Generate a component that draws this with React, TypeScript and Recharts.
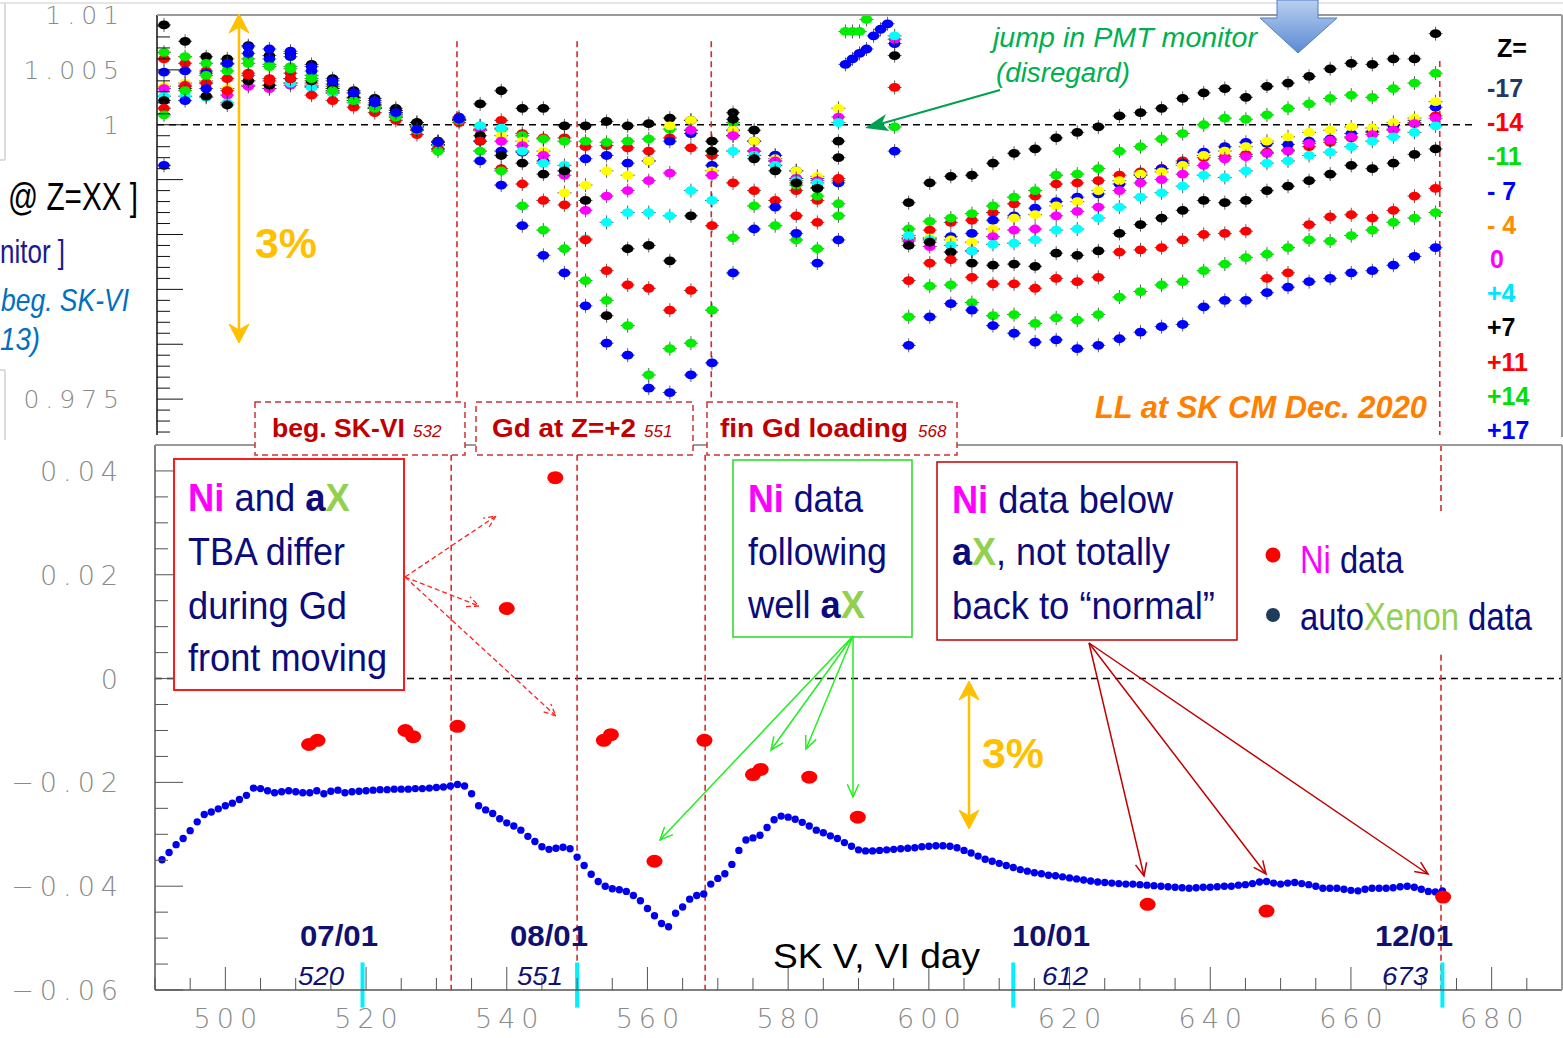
import React from "react";
import { ScatterChart, Scatter, XAxis, YAxis, ReferenceLine } from "recharts";

const W = 1563;
const H = 1038;
const SANS = "'Liberation Sans', Arial, sans-serif";
const THIN = "'DejaVu Sans', sans-serif";
const NAVY = "#0b0b7d";
const MAGENTA = "#ff00ff";
const LIME = "#92d050";
const DARKRED = "#c00000";
const ORANGE = "#ffc000";

// ---- top panel: relative gain per Z slice, sampled SK days ----
const topDays = [
  491, 494, 497, 500, 503, 506, 509, 512, 515, 518, 521, 524, 527, 530, 533,
  536, 539, 542, 545, 548, 551, 554, 557, 560, 563, 566, 569, 572, 575, 578, 581, 584, 587,
  597, 600, 603, 606, 609, 612, 615, 618, 621, 624, 627, 630, 633, 636, 639, 642, 645, 648,
  651, 654, 657, 660, 663, 666, 669, 672,
];

const zMinus17 = [
  1.0091, 1.0076, 1.0062, 1.006, 1.0072, 1.0063, 1.0065, 1.0055, 1.0042, 1.0031, 1.0024, 1.0015, 1.0002, 0.9985, 1.0005,
  1.0019, 1.0031, 1.0015, 1.0015, 0.9999, 0.9999, 1.0003, 0.9999, 1.0001, 1.0006, 1.0004, 0.9985, 1.0011, 0.9995, 0.9972, 0.9951, 0.9943, 0.9985,
  0.9929, 0.9947, 0.9953, 0.9954, 0.9965, 0.9974, 0.9978, 0.9988, 0.9993, 0.9998, 1.0008, 1.0011, 1.0015, 1.0024, 1.0029, 1.0033, 1.0025, 1.0035,
  1.0038, 1.0044, 1.0051, 1.0056, 1.0055, 1.006, 1.006, 1.0083,
];
const zMinus14 = [
  1.006, 1.0056, 1.0049, 1.0042, 1.0047, 1.0042, 1.0047, 1.0038, 1.0029, 1.0022, 1.0015, 1.0007, 0.9995, 0.9978, 1.0004,
  0.9995, 1.0004, 0.9992, 0.9988, 0.9988, 0.998, 0.9981, 0.9979, 0.9976, 0.9988, 0.9979, 0.9972, 0.999, 0.9976, 0.9963, 0.994, 0.9931, 0.9949,
  0.9896, 0.9904, 0.9911, 0.9913, 0.992, 0.9928, 0.9935, 0.9946, 0.9947, 0.9949, 0.9954, 0.9957, 0.996, 0.9967, 0.997, 0.9971, 0.9973, 0.9975,
  0.9977, 0.998, 0.9984, 0.9988, 0.9993, 0.9996, 1.0002, 1.0008,
];
const zMinus11 = [
  1.0066, 1.0062, 1.0056, 1.0055, 1.006, 1.0055, 1.0053, 1.0045, 1.0035, 1.0025, 1.0018, 1.0011, 0.9998, 0.9981, 1.0005,
  0.9999, 0.9996, 0.999, 0.9987, 0.9985, 0.9985, 0.9984, 0.9985, 0.9987, 0.9996, 0.9995, 0.9976, 1.0002, 0.9985, 0.9967, 0.9945, 0.9935, 0.9928,
  0.9905, 0.9912, 0.9915, 0.9919, 0.9926, 0.9934, 0.994, 0.9954, 0.9955, 0.996, 0.9976, 0.998, 0.9987, 0.9992, 1.0, 1.0006, 1.0005, 1.0009,
  1.0015, 1.0019, 1.0024, 1.0027, 1.0025, 1.0033, 1.0038, 1.0047,
];
const zMinus7 = [
  1.0048, 1.0049, 1.0047, 1.0056, 1.0065, 1.006, 1.0062, 1.0049, 1.0037, 1.0029, 1.0022, 1.0013, 1.0, 0.9984, 1.0007,
  0.9985, 0.9976, 0.9975, 0.9967, 0.9958, 0.9969, 0.9972, 0.9965, 0.9967, 0.9985, 0.9992, 0.9963, 0.9995, 0.9985, 0.9972, 0.9958, 0.9951, 0.9947,
  0.9897, 0.9896, 0.9898, 0.9901, 0.9913, 0.9917, 0.9924, 0.993, 0.9934, 0.9937, 0.9946, 0.9954, 0.996, 0.9965, 0.9975, 0.998, 0.9984, 0.9983,
  0.9982, 0.9985, 0.9987, 0.9992, 0.9994, 0.9999, 1.0004, 1.0016,
];
const zMinus4 = [
  1.0035, 1.0038, 1.004, 1.0033, 1.0036, 1.0033, 1.0038, 1.0036, 1.0033, 1.0024, 1.0016, 1.0011, 1.0, 0.9984, 1.0004,
  0.9995, 0.999, 0.9985, 0.9976, 0.9938, 0.9945, 0.9958, 0.9954, 0.9967, 0.9999, 1.0004, 0.9958, 0.9995, 0.9985, 0.9969, 0.9958, 0.9953, 1.0015,
  0.9896, 0.9897, 0.9895, 0.9893, 0.9905, 0.9915, 0.9918, 0.9926, 0.993, 0.994, 0.9949, 0.9955, 0.9957, 0.9963, 0.9972, 0.9976, 0.998, 0.9985,
  0.9989, 0.9993, 0.9995, 0.9998, 0.9997, 1.0002, 1.0006, 1.0021,
];
const zZero = [
  1.0033, 1.0036, 1.0038, 1.0027, 1.0035, 1.0033, 1.0036, 1.0035, 1.0031, 1.0022, 1.0015, 1.0009, 0.9998, 0.9982, 1.0005,
  0.9996, 0.9985, 0.9981, 0.9972, 0.9954, 0.9922, 0.9935, 0.994, 0.9949, 0.9956, 0.9995, 0.9954, 0.999, 0.9976, 0.9967, 0.9951, 0.9949, 1.0007,
  0.9894, 0.9889, 0.9884, 0.9885, 0.9898, 0.9904, 0.9905, 0.9917, 0.9921, 0.9925, 0.994, 0.9947, 0.995, 0.9955, 0.9963, 0.9969, 0.9971, 0.9974,
  0.9976, 0.9983, 0.9986, 0.9989, 0.9991, 0.9995, 1.0001, 1.0006,
];
const zPlus4 = [
  1.0026, 1.0026, 1.0025, 1.002, 1.004, 1.0036, 1.0038, 1.0034, 1.0029, 1.002, 1.0015, 1.0009, 0.9998, 0.9982, 1.0004,
  0.9999, 0.9997, 0.9976, 0.9965, 0.9963, 0.9896, 0.9911, 0.992, 0.992, 0.9917, 0.994, 0.9931, 0.9976, 0.9972, 0.9963, 0.9949, 0.9947, 1.0002,
  0.9899, 0.9895, 0.989, 0.9885, 0.9891, 0.9892, 0.9895, 0.9904, 0.9905, 0.9915, 0.9925, 0.9934, 0.9938, 0.9944, 0.9954, 0.9952, 0.9958, 0.9965,
  0.9967, 0.9972, 0.9975, 0.998, 0.9985, 0.9989, 0.9993, 0.9999,
];
const zPlus7 = [
  1.0022, 1.0033, 1.0026, 1.0018, 1.004, 1.0036, 1.0042, 1.004, 1.0033, 1.0025, 1.0018, 1.0013, 1.0002, 0.9984, 1.0005,
  0.999, 0.9972, 0.9965, 0.9955, 0.9958, 0.9931, 0.9826, 0.9887, 0.989, 0.9876, 0.9917, 0.9976, 1.0005, 0.9969, 0.9958, 0.9947, 0.9942, 0.997,
  0.989, 0.9893, 0.9884, 0.9874, 0.9872, 0.9873, 0.9871, 0.9883, 0.9881, 0.9885, 0.9901, 0.9909, 0.9915, 0.9922, 0.9931, 0.9929, 0.9931, 0.994,
  0.9944, 0.9949, 0.9955, 0.9963, 0.996, 0.9965, 0.9973, 0.9978,
];
const zPlus11 = [
  1.0015, 1.0035, 1.0038, 1.0031, 1.0045, 1.004, 1.0042, 1.0027, 1.0022, 1.0016, 1.0011, 1.0004, 0.9991, 0.9978, 1.0002,
  0.9985, 0.996, 0.9946, 0.9931, 0.9927, 0.9895, 0.9867, 0.9854, 0.9851, 0.9831, 0.9849, 0.9908, 0.9947, 0.994, 0.9931, 0.9917, 0.9911, 0.9951,
  0.9858, 0.9874, 0.9877, 0.9861, 0.9855, 0.9855, 0.9851, 0.986, 0.9857, 0.9861, 0.9884, 0.9886, 0.9888, 0.9895, 0.99, 0.9901, 0.9903, 0.986,
  0.9865, 0.9909, 0.9916, 0.9918, 0.9915, 0.9922, 0.9935, 0.9942,
];
const zPlus14 = [
  1.0009, 1.0031, 1.0045, 1.0049, 1.0056, 1.0053, 1.0051, 1.0042, 1.0031, 1.0022, 1.0015, 1.0007, 0.9995, 0.9976, 1.0004,
  0.9976, 0.9958, 0.9926, 0.9904, 0.9887, 0.9858, 0.984, 0.9817, 0.9772, 0.9796, 0.9801, 0.9831, 0.9897, 0.9926, 0.9908, 0.9895, 0.9887, 0.9917,
  0.9825, 0.9853, 0.9854, 0.9838, 0.9826, 0.9827, 0.9819, 0.9824, 0.9822, 0.9827, 0.9843, 0.9848, 0.9854, 0.9857, 0.9867, 0.9873, 0.9879, 0.9882,
  0.9888, 0.9895, 0.9894, 0.9899, 0.9904, 0.9911, 0.9915, 0.992,
];
const zPlus17 = [
  0.9963, 1.0022, 1.0033, 1.0056, 1.0071, 1.0069, 1.0067, 1.0053, 1.004, 1.0029, 1.002, 1.0011, 0.9996, 0.9984, 1.0005,
  0.9967, 0.9945, 0.9908, 0.9881, 0.9865, 0.9835, 0.9801, 0.979, 0.976, 0.9756, 0.9772, 0.9783, 0.9865, 0.9905, 0.9925, 0.9901, 0.9874, 0.9895,
  0.9799, 0.9825, 0.9837, 0.9831, 0.9817, 0.981, 0.9802, 0.9804, 0.9796, 0.9799, 0.9805, 0.9811, 0.9816, 0.9818, 0.9834, 0.984, 0.984, 0.9847,
  0.9852, 0.9857, 0.986, 0.9865, 0.9867, 0.9872, 0.988, 0.9888,
];

// PMT monitor jump (disregard)
const jumpDays = [588, 589, 590, 591, 592, 593, 594, 595];
const jumpMinus17 = [null, null, null, null, null, null, null, 1.0063];
const jumpMinus14 = [null, null, null, null, null, null, null, 1.0034];
const jumpMinus11 = [1.0085, 1.0085, 1.0085, 1.0096, null, null, null, 0.9998];
const jumpMinus7 = [null, null, null, null, null, null, null, 1.0074];
const jumpZero = [null, null, null, null, null, null, null, 1.0078];
const jumpPlus4 = [null, null, null, null, null, null, null, 1.0081];
const jumpPlus17 = [1.0055, 1.006, 1.0065, 1.0069, 1.0081, 1.0087, 1.0092, 0.9976];

const topSeries = [
  { z: "-17", dot: "#000000", text: "#1f3864", values: zMinus17, jump: jumpMinus17 },
  { z: "-14", dot: "#ff0000", text: "#ff0000", values: zMinus14, jump: jumpMinus14 },
  { z: "-11", dot: "#00ee00", text: "#00e000", values: zMinus11, jump: jumpMinus11 },
  { z: "- 7", dot: "#0000ff", text: "#0000ff", values: zMinus7, jump: jumpMinus7 },
  { z: "- 4", dot: "#ffff00", text: "#ff8c00", values: zMinus4, jump: [] },
  { z: "0", dot: "#ff00ff", text: "#ff00ff", values: zZero, jump: jumpZero },
  { z: "+4", dot: "#00ffff", text: "#00e5ff", values: zPlus4, jump: jumpPlus4 },
  { z: "+7", dot: "#000000", text: "#000000", values: zPlus7, jump: [] },
  { z: "+11", dot: "#ff0000", text: "#ff0000", values: zPlus11, jump: [] },
  { z: "+14", dot: "#00ee00", text: "#00e000", values: zPlus14, jump: [] },
  { z: "+17", dot: "#0000ff", text: "#0000ff", values: zPlus17, jump: jumpPlus17 },
];

const topEventDays = [532.7, 549.8, 568.9];
const topLastDay = 672.6;

// ---- bottom panel: Ni vs autoXenon ----
const AX_FIRST_DAY = 491;
const axValues = [
  -0.0349, -0.0335, -0.032, -0.0308, -0.0293, -0.0276, -0.0262, -0.0257, -0.0251, -0.0245,
  -0.024, -0.0233, -0.0225, -0.0211, -0.0212, -0.0216, -0.022, -0.0218, -0.0216, -0.0218,
  -0.022, -0.022, -0.0216, -0.0222, -0.0217, -0.0215, -0.022, -0.0218, -0.0217, -0.0216,
  -0.0215, -0.0214, -0.0214, -0.0213, -0.0213, -0.0213, -0.0212, -0.0212, -0.0211, -0.021,
  -0.0209, -0.0207, -0.0204, -0.0207, -0.0222, -0.0245, -0.0253, -0.026, -0.027, -0.0278,
  -0.0284, -0.0292, -0.0304, -0.0314, -0.0324, -0.0329, -0.0327, -0.0325, -0.0328, -0.0344,
  -0.036, -0.0377, -0.0391, -0.04, -0.0405, -0.0407, -0.041, -0.0418, -0.0428, -0.0443,
  -0.0457, -0.0472, -0.0478, -0.0452, -0.044, -0.0425, -0.0418, -0.0415, -0.0396, -0.0385,
  -0.0376, -0.0358, -0.0331, -0.0311, -0.0307, -0.0302, -0.0287, -0.0272, -0.0265, -0.0267,
  -0.0271, -0.0277, -0.0284, -0.0292, -0.0297, -0.0303, -0.0308, -0.0316, -0.0323, -0.033,
  -0.0332, -0.0332, -0.0331, -0.033, -0.0329, -0.0328, -0.0327, -0.0326, -0.0324, -0.0323,
  -0.0322, -0.0322, -0.0323, -0.0326, -0.0331, -0.0336, -0.0342, -0.0348, -0.0352, -0.0356,
  -0.036, -0.0364, -0.0368, -0.0371, -0.0374, -0.0376, -0.0379, -0.038, -0.0382, -0.0384,
  -0.0386, -0.0388, -0.039, -0.0392, -0.0393, -0.0394, -0.0395, -0.0396, -0.0396, -0.0397,
  -0.0398, -0.0399, -0.04, -0.0401, -0.0402, -0.0403, -0.0404, -0.0403, -0.0402, -0.0402,
  -0.0401, -0.04, -0.04, -0.0398, -0.0397, -0.0395, -0.0392, -0.0391, -0.0394, -0.0396,
  -0.0394, -0.0393, -0.0395, -0.0397, -0.04, -0.0404, -0.0404, -0.0404, -0.0406, -0.0408,
  -0.0409, -0.0406, -0.0404, -0.0404, -0.0404, -0.0403, -0.0401, -0.04, -0.0402, -0.0406,
  -0.041, -0.0411, -0.0409,
];
const niDays = [511.9, 513.1, 525.6, 526.7, 533.0, 540.0, 546.9, 553.8, 554.8, 561.0, 568.1, 575.0, 576.1, 583.0, 589.9, 631.1, 648.0, 673.1];
const niValues = [-0.0127, -0.0119, -0.01, -0.0112, -0.0092, 0.0135, 0.0387, -0.0119, -0.0108, -0.0352, -0.0119, -0.0185, -0.0175, -0.019, -0.0267, -0.0435, -0.0448, -0.0421];

const bottomEventDays = [532.1, 550.0, 568.2];
const bottomLastDay = 672.8;
const dateMarks = [
  { day: 519.5, date: "07/01", num: "520", dx: 300, nx: 298 },
  { day: 550.0, date: "08/01", num: "551", dx: 510, nx: 517 },
  { day: 612.0, date: "10/01", num: "612", dx: 1012, nx: 1042 },
  { day: 673.0, date: "12/01", num: "673", dx: 1375, nx: 1382 },
];

// axis ticks
const topTicks: number[] = [];
for (let k = 972; k <= 1010; k++) topTicks.push(k / 1000);
const TOP_LABELS = [1010, 1005, 1000, 975];
const bottomYTicks: number[] = [];
for (let k = -60; k <= 45; k += 5) bottomYTicks.push(k / 1000);
const bottomXTicks: number[] = [];
for (let d = 490; d <= 690; d += 5) bottomXTicks.push(d);

const topData = topSeries.map((s) => {
  const pts = topDays.map((d, i) => ({ x: d, y: s.values[i] }));
  s.jump.forEach((v, i) => {
    if (v != null) pts.push({ x: jumpDays[i], y: v });
  });
  return pts;
});
const axData = axValues.map((v, i) => ({ x: AX_FIRST_DAY + i, y: v }));
const niData = niDays.map((d, i) => ({ x: d, y: niValues[i] }));

const gainDot = (color: string) => (p: any) => {
  const { cx, cy } = p;
  if (cx == null || cy == null) return <g />;
  return (
    <g>
      <line x1={cx} x2={cx} y1={cy - 7} y2={cy + 7} stroke="#333" strokeWidth={0.8} />
      <line x1={cx - 7} x2={cx + 7} y1={cy} y2={cy} stroke="#333" strokeWidth={0.8} />
      <ellipse cx={cx} cy={cy} rx={5.8} ry={4.4} fill={color} />
    </g>
  );
};
const axDot = (p: any) => <circle cx={p.cx} cy={p.cy} r={3.7} fill="#0000ee" />;
const niDot = (p: any) => <ellipse cx={p.cx} cy={p.cy} rx={8} ry={6.5} fill="#ff0000" />;

const TopYTick = (props: any) => {
  const { x, y, payload } = props;
  const k = Math.round(payload.value * 1000);
  const major = k % 5 === 0;
  return (
    <g>
      <line x1={x} x2={x + (major ? 26 : 13)} y1={y} y2={y} stroke="#111" strokeWidth={1} />
      {TOP_LABELS.includes(k) && (
        <text x={x - 32} y={y + 9} textAnchor="end" fontFamily={THIN} fontWeight={300} fontSize={25} letterSpacing={6} fill="#8a8a8a">
          {String(k / 1000)}
        </text>
      )}
    </g>
  );
};

const BottomYTick = (props: any) => {
  const { x, y, payload } = props;
  const k = Math.round(payload.value * 1000);
  const major = k % 20 === 0;
  const label = k === 0 ? "0" : (k < 0 ? "\u2212" : "") + (Math.abs(k) / 1000).toFixed(2);
  return (
    <g>
      <line x1={x} x2={x + (major ? 28 : 13)} y1={y} y2={y} stroke="#555" strokeWidth={1} />
      {major && (
        <text x={x - 31} y={y + 10} textAnchor="end" fontFamily={THIN} fontWeight={300} fontSize={27} letterSpacing={6} fill="#8a8a8a">
          {label}
        </text>
      )}
    </g>
  );
};

const BottomXTick = (props: any) => {
  const { x, y, payload } = props;
  const d = payload.value;
  const major = d % 20 === 0;
  return (
    <g>
      <line x1={x} x2={x} y1={y} y2={y - (major ? 23 : 12)} stroke="#555" strokeWidth={1} />
      {major && d >= 500 && d <= 680 && (
        <text x={x + 3} y={y + 38} textAnchor="middle" fontFamily={THIN} fontWeight={300} fontSize={27} letterSpacing={6} fill="#8a8a8a">
          {d}
        </text>
      )}
    </g>
  );
};

function Arrow({ x1, y1, x2, y2, color, width = 1.5, dash, head = 14 }: any) {
  const a = Math.atan2(y2 - y1, x2 - x1);
  const s = 0.42;
  const p1 = `${x2 - head * Math.cos(a - s)},${y2 - head * Math.sin(a - s)}`;
  const p2 = `${x2 - head * Math.cos(a + s)},${y2 - head * Math.sin(a + s)}`;
  return (
    <g stroke={color} strokeWidth={width} fill="none" strokeDasharray={dash}>
      <line x1={x1} y1={y1} x2={x2} y2={y2} />
      <polyline points={`${p1} ${x2},${y2} ${p2}`} />
    </g>
  );
}

function DoubleArrow({ x, y1, y2 }: any) {
  return (
    <g fill={ORANGE} stroke={ORANGE}>
      <line x1={x} x2={x} y1={y1 + 8} y2={y2 - 8} strokeWidth={2.5} />
      <polygon points={`${x},${y1} ${x + 10},${y1 + 19} ${x},${y1 + 13} ${x - 10},${y1 + 19}`} strokeWidth={1} />
      <polygon points={`${x},${y2} ${x + 10},${y2 - 19} ${x},${y2 - 13} ${x - 10},${y2 - 19}`} strokeWidth={1} />
    </g>
  );
}

// a multi-coloured text line squeezed horizontally like the narrow slide font
function Line({ x, y, sx, children, size = 38 }: any) {
  return (
    <text transform={`translate(${x},${y}) scale(${sx},1)`} fontFamily={SANS} fontSize={size} fill={NAVY}>
      {children}
    </text>
  );
}

function Overlay() {
  const boxText = { fontFamily: SANS, fontSize: 38, fill: NAVY, lengthAdjust: "spacingAndGlyphs" } as any;
  const tag = { fontFamily: SANS, fontSize: 26, fontWeight: 700, fill: DARKRED, lengthAdjust: "spacingAndGlyphs" } as any;
  const tagNum = { fontFamily: SANS, fontSize: 17, fontStyle: "italic", fill: DARKRED } as any;
  return (
    <svg width={W} height={H} style={{ position: "absolute", left: 0, top: 0, pointerEvents: "none" }}>
      <defs>
        <linearGradient id="blueArrow" x1="0" y1="0" x2="0" y2="1">
          <stop offset="0" stopColor="#b8cff0" />
          <stop offset="1" stopColor="#5b8ad2" />
        </linearGradient>
      </defs>
      {/* faint slide frames */}
      <line x1={0} x2={W} y1={3} y2={3} stroke="#dcdcdc" strokeWidth={1.5} />
      <line x1={5} x2={5} y1={3} y2={160} stroke="#d0d0d0" strokeWidth={1.5} />
      <line x1={0} x2={5} y1={160} y2={160} stroke="#d0d0d0" strokeWidth={1.5} />
      <line x1={5} x2={5} y1={370} y2={440} stroke="#d0d0d0" strokeWidth={1.5} />
      <line x1={0} x2={5} y1={370} y2={370} stroke="#d0d0d0" strokeWidth={1.5} />
      {/* panel frames */}
      <line x1={157} x2={1562} y1={15} y2={15} stroke="#9a9a9a" strokeWidth={2} />
      <line x1={1562} x2={1562} y1={15} y2={437} stroke="#9a9a9a" strokeWidth={2} />
      <line x1={155} x2={1562} y1={445} y2={445} stroke="#9a9a9a" strokeWidth={2} />
      <line x1={1562} x2={1562} y1={445} y2={990} stroke="#9a9a9a" strokeWidth={2} />

      {/* left cropped axis title */}
      <text x={8} y={210} fontFamily={SANS} fontSize={38} fill="#000" textLength={130} lengthAdjust="spacingAndGlyphs">@ Z=XX ]</text>
      <text x={0} y={263} fontFamily={SANS} fontSize={34} fill="#1a1a8c" textLength={65} lengthAdjust="spacingAndGlyphs">nitor ]</text>
      <text x={1} y={311} fontFamily={SANS} fontSize={32} fontStyle="italic" fill="#0070c0" textLength={128} lengthAdjust="spacingAndGlyphs">beg. SK-VI</text>
      <text x={0} y={350} fontFamily={SANS} fontSize={32} fontStyle="italic" fill="#0070c0" textLength={40} lengthAdjust="spacingAndGlyphs">13)</text>

      {/* 3% arrows */}
      <DoubleArrow x={239} y1={14} y2={343} />
      <text x={255} y={258} fontFamily={SANS} fontSize={43} fontWeight={700} fill={ORANGE} textLength={62} lengthAdjust="spacingAndGlyphs">3%</text>
      <DoubleArrow x={969} y1={681} y2={829} />
      <text x={982} y={768} fontFamily={SANS} fontSize={43} fontWeight={700} fill={ORANGE} textLength={62} lengthAdjust="spacingAndGlyphs">3%</text>

      {/* PMT monitor note */}
      <text x={993} y={47} fontFamily={SANS} fontSize={27} fontStyle="italic" fill="#00b050" textLength={264} lengthAdjust="spacingAndGlyphs">jump in PMT monitor</text>
      <text x={996} y={82} fontFamily={SANS} fontSize={27} fontStyle="italic" fill="#00b050" textLength={134} lengthAdjust="spacingAndGlyphs">(disregard)</text>
      <line x1={1000} y1={90} x2={880} y2={124} stroke="#00a050" strokeWidth={2} />
      <polygon points="865,128 886,114 882,123 889,131" fill="#00a050" />

      {/* blue block arrow */}
      <polygon points="1277,0 1318,0 1318,18 1337,18 1298,53 1260,18 1277,18" fill="url(#blueArrow)" stroke="#4f7fc4" strokeWidth={1} />

      {/* Z legend */}
      <text x={1497} y={57} fontFamily={SANS} fontSize={25} fontWeight={700} fill="#000">Z=</text>
      {topSeries.map((s, i) => (
        <text key={s.z} x={s.z === "0" ? 1490 : 1487} y={97 + i * 34.2} fontFamily={SANS} fontSize={25} fontWeight={700} fill={s.text}>
          {s.z}
        </text>
      ))}
      <text x={1095} y={418} fontFamily={SANS} fontSize={31} fontWeight={700} fontStyle="italic" fill="#ff8000" textLength={332} lengthAdjust="spacingAndGlyphs">
        LL at SK CM Dec. 2020
      </text>

      {/* event tags */}
      <rect x={255} y={402} width={210} height={53} fill="#fff" stroke="#cc3333" strokeWidth={1.5} strokeDasharray="6 4" />
      <rect x={476} y={402} width={217} height={53} fill="#fff" stroke="#cc3333" strokeWidth={1.5} strokeDasharray="6 4" />
      <rect x={707} y={402} width={250} height={53} fill="#fff" stroke="#cc3333" strokeWidth={1.5} strokeDasharray="6 4" />
      <text x={272} y={437} {...tag} textLength={133}>beg. SK-VI</text>
      <text x={413} y={437} {...tagNum}>532</text>
      <text x={492} y={437} {...tag} textLength={144}>Gd at Z=+2</text>
      <text x={644} y={437} {...tagNum}>551</text>
      <text x={720} y={437} {...tag} textLength={188}>fin Gd loading</text>
      <text x={918} y={437} {...tagNum}>568</text>

      {/* box 1 */}
      <rect x={174} y={459} width={230} height={231} fill="#fff" stroke="#ff1a1a" strokeWidth={2} />
      <Line x={188} y={511} sx={0.958}>
        <tspan fill={MAGENTA} fontWeight={700}>Ni</tspan>
        {" and "}
        <tspan fontWeight={700}>a</tspan>
        <tspan fill={LIME} fontWeight={700}>X</tspan>
      </Line>
      <text x={188} y={565} {...boxText} textLength={157}>TBA differ</text>
      <text x={188} y={619} {...boxText} textLength={159}>during Gd</text>
      <text x={188} y={671} {...boxText} textLength={199}>front moving</text>
      <Arrow x1={405} y1={577} x2={496} y2={516} color="#ff2020" width={1.3} dash="5 3" head={13} />
      <Arrow x1={405} y1={577} x2={479} y2={606} color="#ff2020" width={1.3} dash="5 3" head={13} />
      <Arrow x1={405} y1={577} x2={556} y2={716} color="#ff2020" width={1.3} dash="5 3" head={13} />

      {/* box 2 */}
      <rect x={733} y={460} width={179} height={177} fill="#fff" stroke="#22dd22" strokeWidth={1.5} />
      <Line x={748} y={512} sx={0.94}>
        <tspan fill={MAGENTA} fontWeight={700}>Ni</tspan>
        {" data"}
      </Line>
      <text x={748} y={565} {...boxText} textLength={139}>following</text>
      <Line x={748} y={618} sx={0.955}>
        {"well "}
        <tspan fontWeight={700}>a</tspan>
        <tspan fill={LIME} fontWeight={700}>X</tspan>
      </Line>
      <Arrow x1={853} y1={636} x2={660} y2={840} color="#22ee22" width={1.5} />
      <Arrow x1={853} y1={636} x2={771} y2={750} color="#22ee22" width={1.5} />
      <Arrow x1={853} y1={636} x2={806} y2={749} color="#22ee22" width={1.5} />
      <Arrow x1={853} y1={636} x2={853} y2={797} color="#22ee22" width={1.5} />

      {/* box 3 */}
      <rect x={937} y={462} width={300} height={178} fill="#fff" stroke="#c00000" strokeWidth={1.5} />
      <Line x={952} y={513} sx={0.952}>
        <tspan fill={MAGENTA} fontWeight={700}>Ni</tspan>
        {" data below"}
      </Line>
      <Line x={952} y={565} sx={0.947}>
        <tspan fontWeight={700}>a</tspan>
        <tspan fill={LIME} fontWeight={700}>X</tspan>
        {", not totally"}
      </Line>
      <text x={952} y={619} {...boxText} textLength={263}>{"back to \u201cnormal\u201d"}</text>
      <Arrow x1={1089} y1={643} x2={1144} y2={876} color="#c00000" width={1.5} />
      <Arrow x1={1089} y1={643} x2={1266} y2={874} color="#c00000" width={1.5} />
      <Arrow x1={1089} y1={643} x2={1428} y2={874} color="#c00000" width={1.5} />

      {/* legend */}
      <circle cx={1273} cy={555} r={7.5} fill="#ff0000" />
      <Line x={1300} y={573} sx={0.86}>
        <tspan fill={MAGENTA}>Ni</tspan>
        {" data"}
      </Line>
      <circle cx={1273} cy={615} r={7} fill="#203c5c" />
      <Line x={1300} y={630} sx={0.865}>
        {"auto"}
        <tspan fill={LIME}>Xenon</tspan>
        {" data"}
      </Line>

      {/* date labels */}
      {dateMarks.map((m) => (
        <g key={m.date}>
          <text x={m.dx} y={946} fontFamily={SANS} fontSize={30} fontWeight={700} fill="#101070" textLength={78} lengthAdjust="spacingAndGlyphs">
            {m.date}
          </text>
          <text x={m.nx} y={985} fontFamily={SANS} fontSize={25} fontStyle="italic" fill="#101070" textLength={46} lengthAdjust="spacingAndGlyphs">
            {m.num}
          </text>
        </g>
      ))}
      <text x={773} y={968} fontFamily={SANS} fontSize={35} fill="#000" textLength={207} lengthAdjust="spacingAndGlyphs">SK V, VI day</text>
    </svg>
  );
}

export default function App() {
  return (
    <div style={{ position: "absolute", left: 0, top: 0, width: W, height: H, background: "#fff", overflow: "hidden" }}>
      <div style={{ position: "absolute", left: 0, top: 0 }}>
        <ScatterChart width={W} height={440} margin={{ top: 15, right: 1, bottom: 5, left: 0 }}>
          <XAxis type="number" dataKey="x" domain={[490, 690]} allowDataOverflow hide height={0} />
          <YAxis
            type="number"
            dataKey="y"
            domain={[0.97173, 1.01]}
            allowDataOverflow
            ticks={topTicks}
            interval={0}
            width={157}
            tickSize={0}
            tickMargin={0}
            tickLine={false}
            axisLine={{ stroke: "#111", strokeWidth: 1.5 }}
            tick={TopYTick}
          />
          <ReferenceLine segment={[{ x: 490, y: 1 }, { x: 677.3, y: 1 }]} stroke="#000" strokeDasharray="7 5" strokeWidth={1.6} />
          {topEventDays.map((d) => (
            <ReferenceLine key={d} segment={[{ x: d, y: 1.0076 }, { x: d, y: 0.9749 }]} stroke="#d42a2a" strokeDasharray="6 4" strokeWidth={1.6} />
          ))}
          <ReferenceLine segment={[{ x: topLastDay, y: 1.0058 }, { x: topLastDay, y: 0.97173 }]} stroke="#d42a2a" strokeDasharray="6 4" strokeWidth={1.6} />
          {topSeries.map((s, i) => (
            <Scatter key={s.z} name={`Z=${s.z}`} data={topData[i]} shape={gainDot(s.dot)} isAnimationActive={false} />
          ))}
        </ScatterChart>
      </div>
      <div style={{ position: "absolute", left: 0, top: 440 }}>
        <ScatterChart width={W} height={598} margin={{ top: 5, right: 1, bottom: 0, left: 0 }}>
          <XAxis
            type="number"
            dataKey="x"
            domain={[490, 690]}
            allowDataOverflow
            ticks={bottomXTicks}
            interval={0}
            height={48}
            tickSize={0}
            tickMargin={0}
            tickLine={false}
            axisLine={{ stroke: "#555", strokeWidth: 1.5 }}
            tick={BottomXTick}
          />
          <YAxis
            type="number"
            dataKey="y"
            domain={[-0.06, 0.045]}
            allowDataOverflow
            ticks={bottomYTicks}
            interval={0}
            width={155}
            tickSize={0}
            tickMargin={0}
            tickLine={false}
            axisLine={{ stroke: "#555", strokeWidth: 1.5 }}
            tick={BottomYTick}
          />
          <ReferenceLine y={0} stroke="#000" strokeDasharray="7 5" strokeWidth={1.6} />
          {bottomEventDays.map((d) => (
            <ReferenceLine key={d} segment={[{ x: d, y: 0.0431 }, { x: d, y: -0.06 }]} stroke="#d42a2a" strokeDasharray="6 4" strokeWidth={1.6} />
          ))}
          <ReferenceLine segment={[{ x: bottomLastDay, y: 0.045 }, { x: bottomLastDay, y: 0.0315 }]} stroke="#d42a2a" strokeDasharray="6 4" strokeWidth={1.6} />
          <ReferenceLine segment={[{ x: bottomLastDay, y: 0.0046 }, { x: bottomLastDay, y: -0.06 }]} stroke="#d42a2a" strokeDasharray="6 4" strokeWidth={1.6} />
          <Scatter name="autoXenon data" data={axData} shape={axDot} isAnimationActive={false} />
          <Scatter name="Ni data" data={niData} shape={niDot} isAnimationActive={false} />
          {dateMarks.map((m) => (
            <ReferenceLine
              key={m.num}
              segment={[{ x: m.day, y: -0.0547 }, { x: m.day, y: -0.0634 }]}
              stroke="#00f0ff"
              strokeWidth={4}
              ifOverflow="visible"
            />
          ))}
        </ScatterChart>
      </div>
      <Overlay />
    </div>
  );
}
